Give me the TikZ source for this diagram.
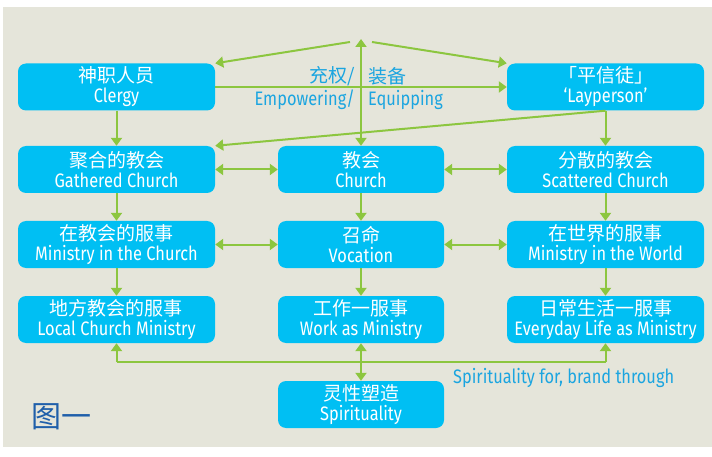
\documentclass[tikz,border=0pt]{standalone}
\usepackage{fontspec}
\setmainfont{Fira Sans}[FakeStretch=0.84]
\newfontfamily\cjk{Noto Sans CJK SC}
\usetikzlibrary{arrows.meta}
\definecolor{bgc}{HTML}{E5E5DA}
\definecolor{boxc}{HTML}{00BFF3}
\definecolor{linec}{HTML}{8CC63F}
\definecolor{labelc}{HTML}{1BA5E0}
\definecolor{figc}{HTML}{1F5FAA}
\newcommand{\bx}[2]{{\cjk\fontsize{19}{20}\selectfont #1}\\#2}
\begin{document}
\begin{tikzpicture}[x=1pt,y=-1pt,
  box/.style={fill=boxc, rounded corners=8pt, text=white, align=center, inner sep=0pt,
    minimum height=47pt, font=\fontsize{19.5}{20}\selectfont},
  wide/.style={minimum width=197pt},
  mid/.style={minimum width=166pt},
  conn/.style={draw=linec, line width=2pt},
  tip/.style={-{Triangle[length=8pt,width=11pt]}},
  dtip/.style={{Triangle[length=8pt,width=11pt]}-{Triangle[length=8pt,width=11pt]}},
  lab/.style={text=labelc, inner sep=0pt, font=\fontsize{19.5}{20}\selectfont},
  labcn/.style={text=labelc, inner sep=0pt, font=\cjk\fontsize{19}{20}\selectfont}]
\useasboundingbox (0,0) rectangle (712,457);
\fill[white] (0,0) rectangle (712,457);
\fill[bgc] (3,7) rectangle (712,447);

% row 1
\node[box,wide] (clergy) at (116.5,87) {\bx{神职人员}{Clergy}};
\node[box,wide] (lay) at (605.5,87) {\bx{「平信徒」}{‘Layperson’}};
% row 2
\node[box,wide] (gath) at (116.5,169.5) {\bx{聚合的教会}{Gathered Church}};
\node[box,mid] (church) at (361,169.5) {\bx{教会}{Church}};
\node[box,wide] (scat) at (605.5,169.5) {\bx{分散的教会}{Scattered Church}};
% row 3
\node[box,wide] (mic) at (116.5,244.5) {\bx{在教会的服事}{Ministry in the Church}};
\node[box,mid] (voc) at (361,244.5) {\bx{召命}{Vocation}};
\node[box,wide] (miw) at (605.5,244.5) {\bx{在世界的服事}{Ministry in the World}};
% row 4
\node[box,wide] (local) at (116.5,319.5) {\bx{地方教会的服事}{Local Church Ministry}};
\node[box,mid] (work) at (361,319.5) {\bx{工作一服事}{Work as Ministry}};
\node[box,wide] (every) at (605.5,319.5) {\bx{日常生活一服事}{Everyday Life as Ministry}};
% spirituality
\node[box,mid] (spir) at (361,404.5) {\bx{灵性塑造}{Spirituality}};

% labels
\node[labcn,anchor=east] (lcn1) at (355,76) {充权/};
\node[labcn,anchor=west] (lcn2) at (368,76) {装备};
\node[lab,anchor=east] (len1) at (355,100) {Empowering/};
\node[lab,anchor=west] (len2) at (368,100) {Equipping};
\node[lab,anchor=west] (lsp) at (453,378) {Spirituality for, brand through};
\node[anchor=west, inner sep=0pt, text=figc, font=\cjk\fontsize{30}{30}\selectfont] (fig) at (31,417) {图一};

% connectors
\coordinate (apex) at (361,39);
\coordinate (dl) at (350,42);
\coordinate (dr) at (372,42);
\draw[conn,tip] (dl) -- (clergy.north east);
\draw[conn,tip] (dr) -- (lay.north west);
\draw[conn,dtip] (church.north) -- (apex);
\draw[conn,tip] (clergy) -- (lay);
\draw[conn,tip] (clergy) -- (gath);
\draw[conn,tip] (lay.south) -- (scat.north);
\draw[conn,tip] (lay.south) -- (gath.north east);

\draw[conn,dtip] (gath) -- (church);
\draw[conn,dtip] (church) -- (scat);
\draw[conn,dtip] (mic) -- (voc);
\draw[conn,dtip] (voc) -- (miw);

\draw[conn,tip] (gath) -- (mic);
\draw[conn,tip] (church) -- (voc);
\draw[conn,tip] (scat) -- (miw);
\draw[conn,tip] (mic) -- (local);
\draw[conn,tip] (voc) -- (work);
\draw[conn,tip] (miw) -- (every);

\coordinate (hb) at (361,362);
\draw[conn] (local.south |- hb) -- (every.south |- hb);
\draw[conn,tip] (local.south |- hb) -- (local.south);
\draw[conn,tip] (every.south |- hb) -- (every.south);
\draw[conn,dtip] (work) -- (spir);
\end{tikzpicture}
\end{document}
